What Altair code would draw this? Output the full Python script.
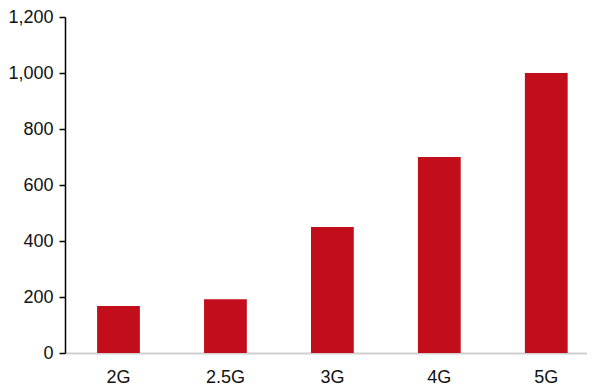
import altair as alt
import pandas as pd

categories = ["2G", "2.5G", "3G", "4G", "5G"]
values = [168, 192, 450, 700, 1000]
y_ticks = [0, 200, 400, 600, 800, 1000, 1200]

df = pd.DataFrame({"cat": categories, "val": values})

chart = alt.Chart(df).mark_bar(color="#C20E1A").encode(
    x=alt.X("cat:N", sort=categories, title=None,
            scale=alt.Scale(paddingInner=0.6, paddingOuter=0.2404, align=0.624),
            axis=alt.Axis(labelAngle=0, ticks=False, domainColor="#d0d0d0",
                          domainWidth=2, labelFontSize=18, labelColor="#111",
                          labelFont="Liberation Sans", labelPadding=15, grid=False)),
    y=alt.Y("val:Q", title=None,
            scale=alt.Scale(domain=[0, 1200], nice=False),
            axis=alt.Axis(values=y_ticks, format=",.0f",
                          domainColor="#000", domainWidth=1.5, tickColor="#000",
                          tickWidth=1.5, tickSize=6, labelFontSize=18, labelColor="#111",
                          labelFont="Liberation Sans", labelPadding=6, grid=False)),
).properties(
    width=522, height=336,
    autosize=alt.AutoSizeParams(type="none"),
    padding={"left": 57, "top": 9, "right": 0, "bottom": 36},
).configure_view(stroke=None)

chart.save("out.html", embed_options={"renderer": "svg", "actions": False})
